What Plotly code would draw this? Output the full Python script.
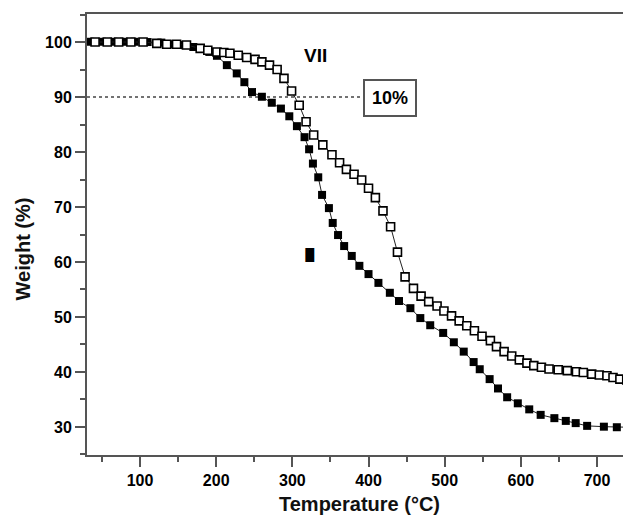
import plotly.graph_objects as go

# Series I (filled squares): temperature (°C) and weight (%)
temp_I = [34, 50, 65, 79, 93, 110, 128, 143, 159, 170, 180, 191, 201, 214, 227, 237, 247, 260, 273, 285,
          296, 306, 316, 322, 327, 334, 339, 348, 353, 360, 368, 378, 388, 400, 413, 428, 440, 455, 468,
          481, 498, 512, 525, 538, 546, 559, 570, 582, 596, 611, 626, 644, 659, 672, 687, 709, 726, 741]
weight_I = [100.05, 100.05, 100.05, 100.05, 100.05, 100.0, 99.9, 99.6, 99.45, 99.1, 98.85, 98.2, 97.5,
            95.8, 94.3, 92.7, 90.9, 90.05, 88.96, 87.9, 86.5, 84.7, 82.7, 80.5, 77.9, 75.4, 72.2, 69.8,
            67.1, 64.9, 62.9, 61.1, 59.3, 57.8, 56.2, 54.4, 52.9, 51.6, 49.8, 48.5, 47.1, 45.4, 43.7,
            41.8, 40.5, 38.7, 37.0, 35.4, 34.3, 33.2, 32.2, 31.6, 31.1, 30.7, 30.2, 30.05, 29.95, 29.95]

# Series VII (open squares)
temp_VII = [41, 57, 72, 88, 104, 122, 135, 148, 161, 179, 189, 201, 210, 218, 229, 240, 251, 260, 270,
            280, 289, 299, 309, 318, 328, 340, 352, 362, 371, 381, 391, 400, 409, 419, 429, 438, 448,
            459, 469, 479, 490, 499, 509, 519, 529, 539, 549, 560, 568, 578, 588, 598, 608, 617, 627,
            637, 649, 661, 673, 682, 693, 703, 713, 721, 730, 739]
weight_VII = [100.0, 100.0, 100.0, 100.0, 100.0, 99.76, 99.6, 99.6, 99.45, 98.85, 98.5, 98.2, 98.1,
              97.95, 97.6, 97.2, 96.85, 96.4, 95.8, 95.0, 93.4, 91.1, 88.5, 85.5, 83.1, 81.3, 79.5,
              78.05, 76.85, 75.95, 74.9, 73.4, 71.7, 69.3, 66.4, 61.8, 57.3, 55.2, 53.8, 52.8, 52.0,
              51.1, 50.2, 49.3, 48.4, 47.5, 46.5, 45.7, 44.6, 43.7, 42.9, 42.2, 41.6, 41.15, 40.85,
              40.55, 40.4, 40.25, 40.05, 39.9, 39.6, 39.45, 39.3, 39.0, 38.7, 38.55]

x_ticks = [100, 200, 300, 400, 500, 600, 700]
y_ticks = [30, 40, 50, 60, 70, 80, 90, 100]
x_range = [30.4, 744.6]
y_range = [24.9, 105.1]
ref_level = 90          # 10 % weight-loss level
ref_end = 391
label_VII = (331, 97.5)
label_I = (323.8, 61.2)
label_10 = (427.6, 89.8)

FONT = "Liberation Sans"
AX = "#555555"

fig = go.Figure()
fig.add_trace(go.Scatter(
    x=temp_I, y=weight_I, mode="lines+markers", name="I",
    line=dict(color="#222", width=1),
    marker=dict(symbol="square", size=8, color="#000", line=dict(width=0)),
))
fig.add_trace(go.Scatter(
    x=temp_VII, y=weight_VII, mode="lines+markers", name="VII",
    line=dict(color="#222", width=1),
    marker=dict(symbol="square", size=8, color="#fff", line=dict(width=1.6, color="#000")),
))

fig.add_shape(type="line", x0=x_range[0], x1=ref_end, y0=ref_level, y1=ref_level,
              line=dict(color="#444", width=1.5, dash="dot"), layer="below")

fig.add_annotation(x=label_VII[0], y=label_VII[1], text="VII", showarrow=False,
                   font=dict(family=FONT, size=19, color="#000", weight="bold"))
fig.add_annotation(x=label_10[0], y=label_10[1], text="10%", showarrow=False,
                   font=dict(family=FONT, size=18, color="#000", weight="bold"),
                   bordercolor="#555", borderwidth=2, borderpad=7, bgcolor="#fff")
fig.add_annotation(x=label_I[0], y=label_I[1], text="I", showarrow=False,
                   font=dict(family=FONT, size=20, color="#000", weight="bold",
                             shadow="2px 0 0 #000, -2px 0 0 #000, 3px 0 0 #000, -3px 0 0 #000"))

# axis titles
fig.add_annotation(xref="paper", yref="paper", x=0.5, y=0, yshift=-49, text="Temperature (°C)",
                   showarrow=False, yanchor="middle",
                   font=dict(family=FONT, size=20, color="#111", weight="bold"))
fig.add_annotation(xref="paper", yref="paper", x=0, y=0.5, xshift=-65, yshift=-15, text="Weight (%)",
                   showarrow=False, textangle=-90, xanchor="center",
                   font=dict(family=FONT, size=20, color="#111", weight="bold"))

fig.update_xaxes(range=x_range, tickvals=x_ticks, ticks="outside", ticklen=10, tickwidth=2,
                 tickcolor=AX, showline=True, linecolor=AX, linewidth=2, mirror=True,
                 showgrid=False, zeroline=False,
                 minor=dict(dtick=50, tick0=0, ticks="outside", ticklen=5, tickwidth=2, tickcolor=AX),
                 tickfont=dict(family=FONT, size=16, color="#000", weight="bold"))
fig.update_yaxes(range=y_range, tickvals=y_ticks, ticks="outside", ticklen=10, tickwidth=2,
                 tickcolor=AX, showline=True, linecolor=AX, linewidth=2, mirror=False,
                 showgrid=False, zeroline=False,
                 minor=dict(dtick=5, tick0=0, ticks="outside", ticklen=5, tickwidth=2, tickcolor=AX),
                 tickfont=dict(family=FONT, size=16, color="#000", weight="bold"))

# the page body has an 8px margin, so the figure is 8px smaller and margins shifted
fig.update_layout(width=623, height=511, margin=dict(l=79, r=0, t=6, b=64),
                  plot_bgcolor="#fff", paper_bgcolor="#fff", showlegend=False)

fig.write_html("out.html")
